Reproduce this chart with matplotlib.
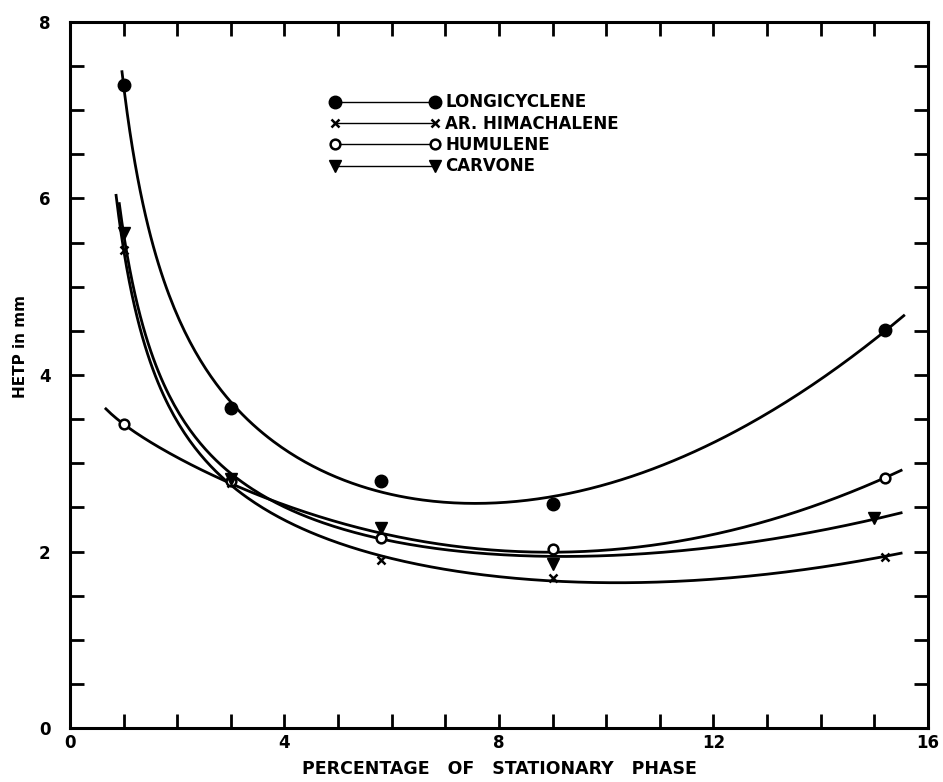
import numpy as np
import matplotlib
matplotlib.use("Agg")
import matplotlib.pyplot as plt
from matplotlib.ticker import MultipleLocator

# values
pct = [1.0, 3.0, 5.8, 9.0, 15.2]
longicyclene = [7.29, 3.63, 2.80, 2.54, 4.51]
himachalene = [5.42, 2.78, 1.90, 1.70, 1.94]
humulene = [3.44, 2.80, 2.15, 2.03, 2.83]
carvone_pct = [1.0, 3.0, 5.8, 9.0, 15.0]
carvone = [5.61, 2.82, 2.27, 1.86, 2.38]

names = ["LONGICYCLENE", "AR. HIMACHALENE", "HUMULENE", "CARVONE"]
curve_start = [0.97, 0.86, 0.67, 0.92]
curve_end = [15.55, 15.5, 15.5, 15.5]


def smooth_fit(x, y, x0, x1):
    """least squares fit of H = a + b/x + c*x + d*x^2 (hand drawn curves in the original)"""
    x = np.asarray(x, float)
    A = np.column_stack([np.ones_like(x), 1 / x, x, x ** 2])
    coef, *_ = np.linalg.lstsq(A, np.asarray(y, float), rcond=None)
    xs = np.linspace(x0, x1, 300)
    ys = coef[0] + coef[1] / xs + coef[2] * xs + coef[3] * xs ** 2
    return xs, ys


plt.rcParams["font.family"] = "DejaVu Sans"
plt.rcParams["font.weight"] = "bold"

fig = plt.figure(figsize=(9.43, 7.82), dpi=100)
ax = fig.add_axes([0.0742, 0.069, 0.9098, 0.903])

series = [
    (pct, longicyclene, dict(marker="o", ms=9, mfc="black", mec="black")),
    (pct, himachalene, dict(marker="x", ms=6, mew=1.8, mec="black")),
    (pct, humulene, dict(marker="o", ms=7, mfc="white", mec="black", mew=1.8)),
    (carvone_pct, carvone, dict(marker="v", ms=8, mfc="black", mec="black")),
]

for i, (xv, yv, mk) in enumerate(series):
    xs, ys = smooth_fit(xv, yv, curve_start[i], curve_end[i])
    ax.plot(xs, ys, color="black", lw=2.0, zorder=2)
    ax.plot(xv, yv, ls="none", color="black", zorder=3, **mk)
    # legend handle: marker - thin line - marker
    ax.plot([], [], color="black", lw=1.0, label=names[i], **mk)

ax.set_xlim(0, 16)
ax.set_ylim(0, 8)
ax.xaxis.set_major_locator(MultipleLocator(4))
ax.xaxis.set_minor_locator(MultipleLocator(1))
ax.yaxis.set_major_locator(MultipleLocator(2))
ax.yaxis.set_minor_locator(MultipleLocator(0.5))
ax.tick_params(which="both", direction="in", top=True, right=True,
               length=10, width=2, labelsize=12)
ax.tick_params(axis="x", pad=4)
ax.tick_params(axis="y", pad=14)

for s in ax.spines.values():
    s.set_linewidth(2.2)

ax.set_xlabel("PERCENTAGE   OF   STATIONARY   PHASE", fontsize=12.5,
              fontweight="bold", labelpad=6)
ax.set_ylabel("HETP in mm", fontsize=11, fontweight="bold")
ax.yaxis.set_label_coords(-0.049, 0.54)

leg = ax.legend(loc="upper left", bbox_to_anchor=(0.286, 0.92), frameon=False,
                numpoints=2, handlelength=6.6, handletextpad=0.3,
                labelspacing=0.2, prop=dict(size=12, weight="bold"))

fig.savefig("out.png", dpi=100)
